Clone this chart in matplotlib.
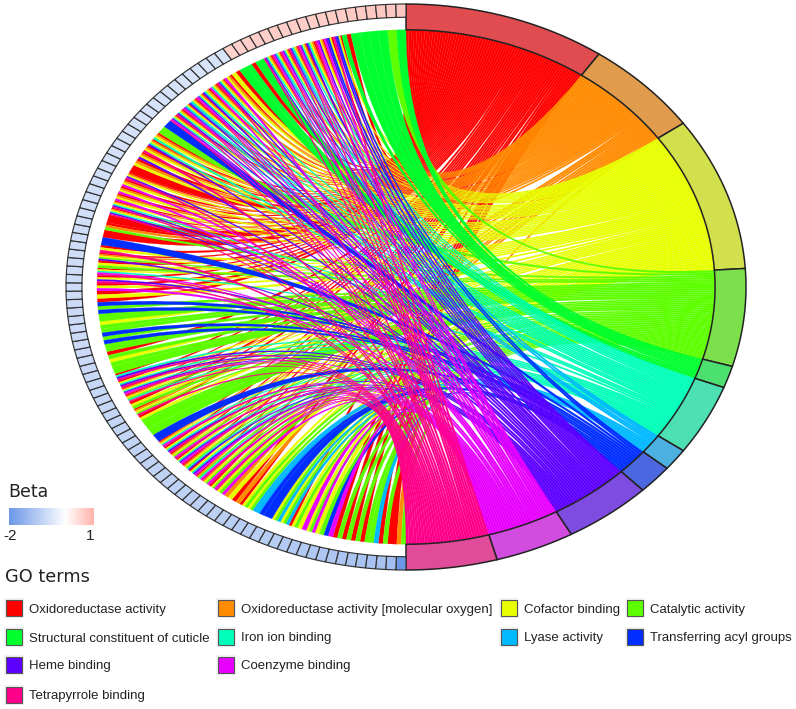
from matplotlib.colors import LinearSegmentedColormap, Normalize
from matplotlib.patches import PathPatch, Rectangle
from matplotlib.path import Path

import matplotlib.pyplot as plt
import numpy as np

WIDTH, HEIGHT = 796, 709
CX, CY, RX, RY = 406, 287, 340, 283
R_CHORD, R_GENE = 0.909, 0.953

TERM_KEYS = "ROYLGSKBVMP"
TERM_NAMES = [
    "Oxidoreductase activity",
    "Oxidoreductase activity [molecular oxygen]",
    "Cofactor binding",
    "Catalytic activity",
    "Structural constituent of cuticle",
    "Iron ion binding",
    "Lyase activity",
    "Transferring acyl groups",
    "Heme binding",
    "Coenzyme binding",
    "Tetrapyrrole binding",
]
TERM_COLORS = [
    "#FF0000", "#FF8B00", "#E8FF00", "#5DFF00", "#00FF2E", "#00FFB9",
    "#00B9FF", "#002EFF", "#5D00FF", "#E800FF", "#FF008B",
]
RING_COLORS = [
    "#E04C50", "#E09C4C", "#D2E04E", "#7CE04C", "#4CE070", "#4CE0B2",
    "#4CB0E0", "#4C68E0", "#7E4CE0", "#D24CE0", "#E04C9A",
]

# Terms of each gene, going clockwise from the bottom to the top
GENE_TERMS = [
    "LO", "R", "RL", "KL", "LR", "RL", "RL", "RL", "BM", "LY",
    "LMY", "YM", "LYR", "KLY", "KLY", "B", "BK", "KLY", "LRY", "RO",
    "OY", "LMY", "LRYMP", "LOYMP", "LROSMP", "RYSVM", "LROYSV", "RYSVMP",
    "LROYMP", "RYSVP", "ROYSMP", "B", "L", "L", "LYR", "LROYP", "LRY",
    "LROYSP", "ROYSVMP", "RYSVP", "RSVP", "L", "LY", "LR", "L", "LB",
    "LB", "LY", "L", "BL", "RB", "RY", "RYM", "RYVP", "RYSMP", "LRY",
    "LROYV", "RYP", "B", "R", "ROL", "R", "ROYSVP", "ROYSVP", "ROYM",
    "ROYM", "ROYM", "ROYVP", "R", "ROY", "ROYV", "ROYP", "ROYSV",
    "ROYS", "L", "B", "ROYSVMP", "ROYSVP", "ROYSKVMP", "ROYSKV",
    "ROYSVMP", "ROYSV", "ROYSM", "ROYSVP", "ROYM", "RY", "G", "RG",
    "G", "ROYSVP", "ROYSKVMP", "ROYSVMP", "ROYSKVP", "ROYSVMP", "ROYSV",
    "ROYVMP", "RYBVM", "RYBVP", "RG", "G", "G", "G", "G", "L", "G",
]
BETA_VALUES = [
    -2.0, -1.25, -1.2, -1.18, -1.15, -1.15, -1.12, -1.1, -1.1, -1.08,
    -1.05, -1.05, -1.02, -1.0, -1.0, -0.98, -0.96, -0.95, -0.94, -0.93,
    -0.92, -0.92, -0.9, -0.9, -0.88, -0.88, -0.86, -0.86, -0.85, -0.85,
    -0.84, -0.84, -0.82, -0.82, -0.8, -0.8, -0.8, -0.78, -0.78, -0.76,
    -0.76, -0.75, -0.75, -0.74, -0.74, -0.72, -0.72, -0.72, -0.7, -0.7,
    -0.7, -0.68, -0.68, -0.68, -0.66, -0.66, -0.66, -0.65, -0.65, -0.65,
    -0.64, -0.64, -0.64, -0.62, -0.62, -0.62, -0.62, -0.6, -0.6, -0.6,
    -0.6, -0.58, -0.58, -0.58, -0.58, -0.56, -0.56, -0.56, -0.56, -0.55,
    -0.55, -0.55, -0.55, -0.54, -0.54, -0.54, 0.6, 0.6, 0.62, 0.62,
    0.62, 0.64, 0.64, 0.65, 0.65, 0.66, 0.66, 0.68, 0.68, 0.7,
    0.7, 0.72, 0.72, 0.74, 0.75,
]
BETA_RANGE = [-2, 1]
LEGEND_ROWS = [
    [0, 1, 2, 3],
    [4, 5, 6, 7],
    [8, 9],
    [10],
]
LEGEND_KEY_X = [6, 218, 501, 627]
LEGEND_ROW_Y = [608, 637, 665, 695]

cmap = LinearSegmentedColormap.from_list(
    "beta", [(0, "#6C98E8"), (2 / 3, "#FFFFFF"), (1, "#FFB4AC")]
)
norm = Normalize(*BETA_RANGE)


def _point(theta, radius):
    rad = np.radians(theta)
    return radius * np.sin(rad), radius * np.cos(rad)


def _arc(start, end, radius, steps=6):
    return [_point(t, radius) for t in np.linspace(start, end, steps)]


def _ribbon(ax, a0, a1, b0, b1, color):
    left = _arc(a0, a1, R_CHORD)
    right = _arc(b0, b1, R_CHORD)
    verts = left + [(0, 0), right[0]] + right[1:] + [(0, 0), left[0]]
    codes = (
        [Path.MOVETO]
        + [Path.LINETO] * (len(left) - 1)
        + [Path.CURVE3] * 2
        + [Path.LINETO] * (len(right) - 1)
        + [Path.CURVE3] * 2
    )
    ax.add_patch(
        PathPatch(Path(verts, codes), facecolor=color, edgecolor=color, lw=0.15)
    )


def _ring_cell(ax, start, end, r_in, color, edge, lw):
    outer = _arc(start, end, 1.0, 20)
    inner = _arc(end, start, r_in, 20)
    ax.add_patch(
        plt.Polygon(
            outer + inner, closed=True, facecolor=color, edgecolor=edge, lw=lw
        )
    )


fig = plt.figure(figsize=(WIDTH / 100, HEIGHT / 100), dpi=100)

# Chord diagram: one unit is the ring radius, so the circle becomes an ellipse
ax = fig.add_axes([0, 0, 1, 1])
ax.set_xlim(-CX / RX, (WIDTH - CX) / RX)
ax.set_ylim((CY - HEIGHT) / RY, CY / RY)
ax.axis("off")

memberships = [[TERM_KEYS.index(c) for c in terms] for terms in GENE_TERMS]
gene_step = 180 / len(GENE_TERMS)
total_links = sum(len(m) for m in memberships)
link_step = 180 / total_links
term_counts = [
    sum(t in m for m in memberships) for t in range(len(TERM_KEYS))
]
term_starts = np.concatenate([[0], np.cumsum(term_counts)]) * link_step

# Where each term's ribbon lands inside its gene cell
gene_slots = {}
for gene, terms in enumerate(memberships):
    for pos, term in enumerate(sorted(terms, reverse=True)):
        start = 180 + gene * gene_step + pos * gene_step / len(terms)
        gene_slots[(gene, term)] = (start, start + gene_step / len(terms))

# Later terms are painted over the earlier ones
for term, color in enumerate(TERM_COLORS):
    genes = [g for g, m in enumerate(memberships) if term in m]
    for pos, gene in enumerate(sorted(genes, reverse=True)):
        a0, a1 = gene_slots[(gene, term)]
        b0 = term_starts[term] + pos * link_step
        _ribbon(ax, a0, a1, b0, b0 + link_step, color)

for term, color in enumerate(RING_COLORS):
    _ring_cell(
        ax, term_starts[term], term_starts[term + 1], R_CHORD, color,
        "#222222", 1.1,
    )
for gene, beta in enumerate(BETA_VALUES):
    start = 180 + gene * gene_step
    _ring_cell(
        ax, start, start + gene_step, R_GENE, cmap(norm(beta)), "#333333", 0.85
    )

# Legends, placed in image pixels
lax = fig.add_axes([0, 0, 1, 1])
lax.axis("off")
lax.patch.set_alpha(0)

lax.text(8, 492, "Beta", fontsize=12.5, family="DejaVu Sans", va="center",
         color="#222222")
lax.imshow(
    np.linspace(*BETA_RANGE, 64).reshape(1, -1),
    cmap=cmap,
    norm=norm,
    extent=(9, 94, 525, 508),
    aspect="auto",
)
lax.set_xlim(0, WIDTH)
lax.set_ylim(HEIGHT, 0)
lax.text(10, 536, str(BETA_RANGE[0]), fontsize=11, family="Liberation Sans",
         ha="center", va="center", color="#222222")
lax.text(94, 536, str(BETA_RANGE[1]), fontsize=11, family="Liberation Sans",
         ha="right", va="center", color="#222222")

lax.text(5, 577, "GO terms", fontsize=12.8, family="DejaVu Sans", va="center",
         color="#222222")
for row, y in zip(LEGEND_ROWS, LEGEND_ROW_Y):
    for col, term in enumerate(row):
        x = LEGEND_KEY_X[col]
        lax.add_patch(Rectangle((x - 2, y - 10), 20, 20, facecolor="#F2F2F2",
                                edgecolor="none"))
        lax.add_patch(Rectangle((x, y - 8), 16, 16, facecolor=TERM_COLORS[term],
                                edgecolor="#555555", lw=0.8))
        lax.text(x + 23, y + 1.5, TERM_NAMES[term], fontsize=9.5,
                 family="Liberation Sans", va="center", color="#222222")

fig.savefig("out.png", dpi=100)
